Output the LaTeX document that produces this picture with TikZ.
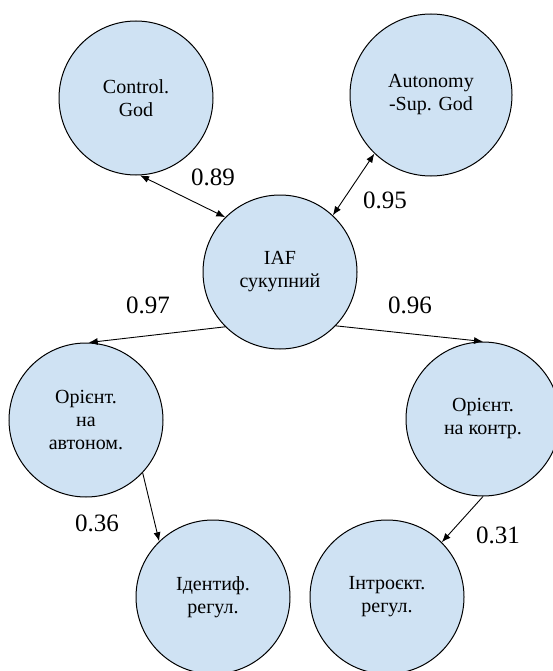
\documentclass[tikz,border=0pt]{standalone}
\usepackage{fontspec}
\setmainfont{Liberation Serif}
\usetikzlibrary{arrows.meta, positioning}
\definecolor{factorblue}{RGB}{207,226,243}

\begin{document}
\begin{tikzpicture}[x=1pt, y=-1pt,
    factor/.style={circle, draw, line width=1pt, fill=factorblue, minimum size=154pt,
        inner sep=0pt, align=center, font=\fontsize{20}{23}\selectfont},
    coef/.style={font=\fontsize{25}{30}\selectfont},
    link/.style={line width=0.9pt, -{Latex[length=9pt, width=7pt]}},
    corr/.style={line width=0.9pt, {Latex[length=9pt, width=7pt]}-{Latex[length=9pt, width=7pt]}}]
    \useasboundingbox (0,0) rectangle (553,671);

    % Factors
    \node[factor] (ctrl) at (136,98) {Control.\\God};
    \node[factor, minimum size=162pt] (auto) at (431,95) {Autonomy\\-Sup. God};
    \node[factor] (iaf) at (280,272) {IAF\\сукупний};
    \node[factor] (orauto) at (86,420) {Орієнт.\\на\\автоном.};
    \node[factor] (orctrl) at (483,419) {Орієнт.\\на контр.};
    \node[factor] (ident) at (213,597) {Ідентиф.\\регул.};
    \node[factor] (introj) at (387,597) {Інтроєкт.\\регул.};

    % Links
    \draw[corr] (ctrl.-87) -- (iaf.135);
    \draw[corr] (auto.226) -- (iaf.47);
    \draw[link] (iaf.225) -- (orauto.88);
    \draw[link] (iaf.-44) -- (orctrl.90);
    \draw[link] (orauto.-43) -- (ident.134);
    \draw[link] (orctrl.270) -- (introj.45);

    % Coefficients
    \node[coef] (c89) at (213,177) {0.89};
    \node[coef] (c95) at (385,200) {0.95};
    \node[coef] (c97) at (148,305) {0.97};
    \node[coef] (c96) at (410,305) {0.96};
    \node[coef] (c36) at (97,523) {0.36};
    \node[coef] (c31) at (498,535) {0.31};
\end{tikzpicture}
\end{document}
